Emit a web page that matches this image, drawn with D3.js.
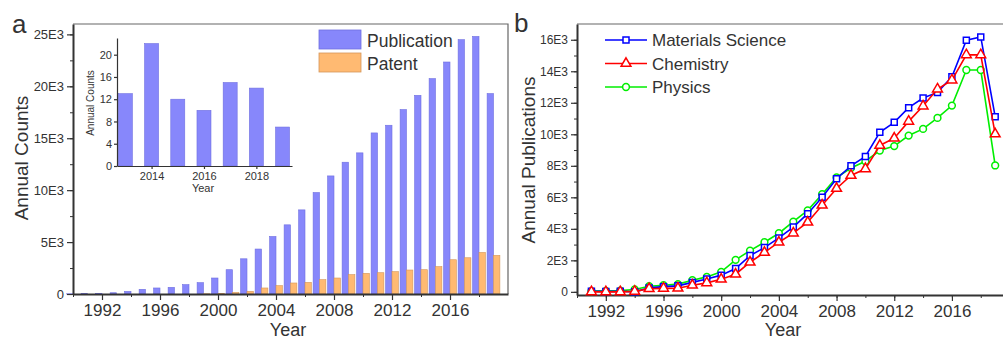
<!DOCTYPE html>
<html>
<head>
<meta charset="utf-8">
<script src="https://cdn.jsdelivr.net/npm/d3@7/dist/d3.min.js"></script>
<style>
   body { margin: 0; background: #fff; }
   text { font-family: Arial, "Liberation Sans", sans-serif; fill: #333; }
</style>
</head>
<body>
<svg id="chart" width="1003" height="341"></svg>
<script>
/* ------- DADOS ------- */

// painel a: contagens anuais
var years = d3.range(1990, 2020);
var publications = [20, 30, 50, 120, 250, 450, 580, 640, 900, 1090, 1540, 2340, 3390, 4330, 5540,
                    6660, 8100, 9770, 11370, 12690, 13590, 15510, 16250, 17760, 19130, 20740, 22340, 24490, 24800, 19300];
var patents = [0, 0, 0, 0, 0, 0, 0, 0, 0, 20, 50, 150, 260, 580, 800,
               1060, 1120, 1380, 1540, 1860, 1990, 2050, 2150, 2310, 2340, 2630, 3300, 3490, 4000, 3720];

// inset
var insetYears = [2013, 2014, 2015, 2016, 2017, 2018, 2019];
var insetCounts = [13, 22, 12, 10, 15, 14, 7];

// painel b: publicações por área
var areaYears = d3.range(1991, 2020);
var materials = [40, 30, 40, 0, 250, 330, 380, 600, 820, 1060, 1480, 2300, 2810, 3420, 4110,
                 4960, 6010, 7180, 8000, 8590, 10130, 10760, 11690, 12300, 12660, 13650, 15970, 16180, 11120];
var chemistry = [0, 0, 0, 30, 200, 220, 230, 420, 570, 800, 1120, 1880, 2500, 3150, 3730,
                 4420, 5500, 6560, 7390, 7810, 9290, 9750, 10820, 11790, 12870, 13440, 15040, 15040, 10020];
var physics = [50, 60, 80, 150, 360, 420, 490, 740, 950, 1270, 2030, 2620, 3150, 3720, 4460,
               5170, 6200, 7260, 7860, 8290, 8970, 9250, 9920, 10340, 11040, 11820, 14080, 14080, 8020];

var seriesNames = ["Materials Science", "Chemistry", "Physics"];
var seriesColors = ["#0000ff", "#ff0000", "#00ee00"];
var seriesSymbols = [d3.symbolSquare, d3.symbolTriangle, d3.symbolCircle];

var axisTickLabelsA = [0, 5000, 10000, 15000, 20000, 25000];
var axisTickLabelsB = [0, 2000, 4000, 6000, 8000, 10000, 12000, 14000, 16000];

/* ------- DADOS ------- */

var svg = d3.select("#chart");
var axisColor = "#333";

// formata 5000 -> 5E3
function eFormat(d) { return d === 0 ? "0" : (d / 1000) + "E3"; }

// estiliza um eixo do d3
function styleAxis(g, width) {
   g.select(".domain").attr("stroke", axisColor).attr("stroke-width", width);
   g.selectAll(".tick line").attr("stroke", axisColor).attr("stroke-width", 1.2);
   g.selectAll(".tick text").attr("fill", "#333").style("font-family", "Arial, 'Liberation Sans', sans-serif");
}

// desenha eixos com ticks menores
function drawAxes(x, y, xTicks, yTicks, xMinor, yMinor, yFont, xFont) {
   var x0 = x.range()[0], x1 = x.range()[1];
   var y0 = y.range()[0], y1 = y.range()[1];

   // moldura cinza (topo e direita)
   svg.append("path")
      .attr("d", "M" + x0 + "," + y1 + "H" + x1 + "V" + y0)
      .attr("fill", "none")
      .attr("stroke", "#666")
      .attr("stroke-width", 1.2);

   var gx = svg.append("g")
      .attr("transform", "translate(0," + y0 + ")")
      .call(d3.axisBottom(x).tickValues(xMinor).tickSize(3).tickFormat(""));
   gx.select(".domain").remove();
   gx.selectAll("line").attr("stroke", axisColor);

   var gxMaj = svg.append("g")
      .attr("transform", "translate(0," + y0 + ")")
      .call(d3.axisBottom(x).tickValues(xTicks).tickSize(6).tickSizeOuter(0).tickPadding(4).tickFormat(d3.format("d")));
   gxMaj.selectAll(".tick text").style("font-size", xFont + "px");
   styleAxis(gxMaj, 2);

   var gy = svg.append("g")
      .attr("transform", "translate(" + x0 + ",0)")
      .call(d3.axisLeft(y).tickValues(yMinor).tickSize(3).tickFormat(""));
   gy.select(".domain").remove();
   gy.selectAll("line").attr("stroke", axisColor);

   var gyMaj = svg.append("g")
      .attr("transform", "translate(" + x0 + ",0)")
      .call(d3.axisLeft(y).tickValues(yTicks).tickSize(6).tickSizeOuter(0).tickPadding(3).tickFormat(eFormat));
   gyMaj.selectAll(".tick text").style("font-size", yFont + "px");
   styleAxis(gyMaj, 2);
}

/* ------- PAINEL A ------- */

var xA = d3.scaleLinear().domain([1990, 2020]).range([73, 508]);
var yA = d3.scaleLinear().domain([0, 26000]).range([294, 24]);
var barW = (xA(1991) - xA(1990)) * 0.44;

svg.append("g").selectAll("rect")
   .data(years)
   .join("rect")
   .attr("x", function(d) { return xA(d) - barW; })
   .attr("y", function(d, i) { return yA(publications[i]); })
   .attr("width", barW)
   .attr("height", function(d, i) { return yA(0) - yA(publications[i]); })
   .attr("fill", "#8787fb")
   .attr("stroke", "#6f6fe0")
   .attr("stroke-width", 0.6);

svg.append("g").selectAll("rect")
   .data(years)
   .join("rect")
   .attr("x", function(d) { return xA(d); })
   .attr("y", function(d, i) { return yA(patents[i]); })
   .attr("width", barW)
   .attr("height", function(d, i) { return yA(0) - yA(patents[i]); })
   .attr("fill", "#ffba72")
   .attr("stroke", "#d4965a")
   .attr("stroke-width", 0.6);

drawAxes(xA, yA, d3.range(1992, 2020, 4), axisTickLabelsA,
   d3.range(1990, 2020, 2), d3.range(0, 26000, 2500), 13, 17);

svg.append("text").attr("x", 12).attr("y", 33).style("font-size", "26px").text("a");

svg.append("text")
   .attr("transform", "translate(28,158) rotate(-90)")
   .attr("text-anchor", "middle")
   .style("font-size", "19px")
   .text("Annual Counts");

svg.append("text")
   .attr("x", 288).attr("y", 336)
   .attr("text-anchor", "middle")
   .style("font-size", "18px")
   .text("Year");

// legenda do painel a
var legendA = [["Publication", "#8787fb", "#6f6fe0"], ["Patent", "#ffba72", "#d4965a"]];
legendA.forEach(function(l, i) {
   svg.append("rect")
      .attr("x", 319).attr("y", 30 + i * 23)
      .attr("width", 42).attr("height", 19)
      .attr("fill", l[1]).attr("stroke", l[2]).attr("stroke-width", 0.8);
   svg.append("text")
      .attr("x", 367).attr("y", 47 + i * 23)
      .style("font-size", "17.5px")
      .text(l[0]);
});

/* ------- INSET ------- */

var xI = d3.scaleLinear().domain([2012.68, 2019.36]).range([117, 292]);
var yI = d3.scaleLinear().domain([0, 23]).range([166, 38]);
var insetW = 14;

svg.append("g").selectAll("rect")
   .data(insetYears)
   .join("rect")
   .attr("x", function(d) { return xI(d) - insetW / 2; })
   .attr("y", function(d, i) { return yI(insetCounts[i]); })
   .attr("width", insetW)
   .attr("height", function(d, i) { return yI(0) - yI(insetCounts[i]); })
   .attr("fill", "#8787fb")
   .attr("stroke", "#6f6fe0")
   .attr("stroke-width", 0.6);

var gIx = svg.append("g")
   .attr("transform", "translate(0,166)")
   .call(d3.axisBottom(xI).tickValues([2014, 2016, 2018]).tickSize(3).tickSizeOuter(0).tickPadding(3).tickFormat(d3.format("d")));
gIx.selectAll(".tick text").style("font-size", "11px");
styleAxis(gIx, 1.2);

var gIy = svg.append("g")
   .attr("transform", "translate(117,0)")
   .call(d3.axisLeft(yI).tickValues([0, 4, 8, 12, 16, 20]).tickSize(3).tickSizeOuter(0).tickPadding(2));
gIy.selectAll(".tick text").style("font-size", "11px");
styleAxis(gIy, 1.2);

svg.append("text")
   .attr("transform", "translate(94,103) rotate(-90)")
   .attr("text-anchor", "middle")
   .style("font-size", "10px")
   .text("Annual Counts");

svg.append("text")
   .attr("x", 203).attr("y", 192)
   .attr("text-anchor", "middle")
   .style("font-size", "11px")
   .text("Year");

/* ------- PAINEL B ------- */

var xB = d3.scaleLinear().domain([1990, 2020]).range([577, 1009.6]);
var yB = d3.scaleLinear().domain([-200, 17000]).range([295, 24]);

drawAxes(xB, yB, d3.range(1992, 2020, 4), axisTickLabelsB,
   d3.range(1990, 2020, 2), d3.range(0, 17000, 1000), 12, 17);

var line = d3.line()
   .x(function(d) { return xB(d[0]); })
   .y(function(d) { return yB(d[1]); });

// verde embaixo, depois vermelho, azul por cima
var drawOrder = [2, 0, 1];
var allSeries = [materials, chemistry, physics];

drawOrder.forEach(function(s) {
   var pts = areaYears.map(function(yr, i) { return [yr, allSeries[s][i]]; });
   svg.append("path")
      .datum(pts)
      .attr("d", line)
      .attr("fill", "none")
      .attr("stroke", seriesColors[s])
      .attr("stroke-width", 1.6);
   svg.append("g").selectAll("path")
      .data(pts)
      .join("path")
      .attr("transform", function(d) { return "translate(" + xB(d[0]) + "," + yB(d[1]) + ")"; })
      .attr("d", d3.symbol().type(seriesSymbols[s]).size(s === 1 ? 42 : 36))
      .attr("fill", "#fff")
      .attr("stroke", seriesColors[s])
      .attr("stroke-width", 1.5);
});

svg.append("text").attr("x", 514).attr("y", 32).style("font-size", "26px").text("b");

svg.append("text")
   .attr("transform", "translate(535,160) rotate(-90)")
   .attr("text-anchor", "middle")
   .style("font-size", "19px")
   .text("Annual Publications");

svg.append("text")
   .attr("x", 783).attr("y", 336)
   .attr("text-anchor", "middle")
   .style("font-size", "18px")
   .text("Year");

// legenda do painel b
seriesNames.forEach(function(name, i) {
   var ly = 40 + i * 23.5;
   svg.append("line")
      .attr("x1", 605).attr("x2", 647)
      .attr("y1", ly).attr("y2", ly)
      .attr("stroke", seriesColors[i])
      .attr("stroke-width", 1.6);
   svg.append("path")
      .attr("transform", "translate(626," + ly + ")")
      .attr("d", d3.symbol().type(seriesSymbols[i]).size(i === 1 ? 42 : 36))
      .attr("fill", "#fff")
      .attr("stroke", seriesColors[i])
      .attr("stroke-width", 1.5);
   svg.append("text")
      .attr("x", 652).attr("y", ly + 6)
      .style("font-size", "17px")
      .text(name);
});
</script>
</body>
</html>
